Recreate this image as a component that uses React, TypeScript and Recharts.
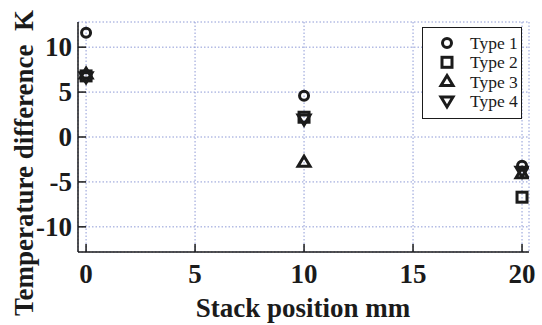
import { CartesianGrid, Scatter, ScatterChart, XAxis, YAxis } from "recharts";

// stack positions (mm) and temperature differences (K) per type
const positions = [0, 10, 20];
const type1 = [11.6, 4.6, -3.2];
const type2 = [6.8, 2.2, -6.7];
const type3 = [7.0, -2.8, -4.1];
const type4 = [6.7, 2.0, -3.8];

const seriesNames = ["Type 1", "Type 2", "Type 3", "Type 4"];
const seriesShapes = ["circle", "square", "up", "down"];
const seriesValues = [type1, type2, type3, type4];

const xTicks = [0, 5, 10, 15, 20];
const yTicks = [-10, -5, 0, 5, 10];

const INK = "#1b1b1b";
const GRID = "#8e9ad6";
const SERIF = '"Liberation Serif", "Times New Roman", serif';

function Marker({ kind, cx, cy }: { kind: string; cx: number; cy: number }) {
  const style = { fill: "none", stroke: INK, strokeWidth: 3 };
  if (kind === "circle") return <circle cx={cx} cy={cy} r={4.5} {...style} />;
  if (kind === "square")
    return <rect x={cx - 5} y={cy - 5} width={10} height={10} {...style} />;
  if (kind === "up")
    return (
      <polygon
        points={`${cx},${cy - 6} ${cx + 6},${cy + 4} ${cx - 6},${cy + 4}`}
        {...style}
      />
    );
  return (
    <polygon
      points={`${cx - 6},${cy - 4} ${cx + 6},${cy - 4} ${cx},${cy + 6}`}
      {...style}
    />
  );
}

function XTick({ x, payload }: any) {
  return (
    <text x={x} y={283} textAnchor="middle" fontFamily={SERIF} fontWeight="bold" fontSize={27} fill={INK}>
      {payload.value}
    </text>
  );
}

function YTick({ y, payload }: any) {
  return (
    <text x={72} y={y} dy={9} textAnchor="end" fontFamily={SERIF} fontWeight="bold" fontSize={27} fill={INK}>
      {payload.value}
    </text>
  );
}

function Legendbox() {
  return (
    <div
      style={{
        position: "absolute",
        left: 422,
        top: 27,
        width: 100,
        height: 92,
        boxSizing: "border-box",
        border: `1.5px solid ${INK}`,
        background: "#fff",
      }}
    >
      <svg width={97} height={89} style={{ display: "block" }}>
        {seriesNames.map((name, i) => (
          <g key={name}>
            <Marker kind={seriesShapes[i]} cx={24} cy={15 + i * 19.3} />
            <text x={47} y={21 + i * 19.3} fontFamily={SERIF} fontSize={17.5} fill={INK}>
              {name}
            </text>
          </g>
        ))}
      </svg>
    </div>
  );
}

const noLabel = () => <g />;

export default function App() {
  const axisLine = { stroke: INK, strokeWidth: 1.5 };
  return (
    <div style={{ position: "absolute", left: 0, top: 0, width: 542, height: 325, background: "#fff" }}>
      <ScatterChart width={542} height={325} margin={{ top: 22, right: 13, bottom: 0, left: 0 }}>
        <CartesianGrid stroke={GRID} strokeDasharray="1.5 2" strokeWidth={1} />
        <XAxis
          type="number"
          dataKey="x"
          domain={[-0.37, 20.32]}
          ticks={xTicks}
          allowDataOverflow
          height={73}
          axisLine={axisLine}
          tickLine={axisLine}
          tickSize={-8}
          tick={<XTick />}
          label={{
            content: () => (
              <text x={303} y={317} textAnchor="middle" fontFamily={SERIF} fontWeight="bold" fontSize={27} fill={INK}>
                Stack position mm
              </text>
            ),
          }}
        />
        <XAxis
          xAxisId="top"
          orientation="top"
          type="number"
          domain={[-0.37, 20.32]}
          ticks={xTicks}
          allowDataOverflow
          height={0}
          axisLine={axisLine}
          tickLine={axisLine}
          tickSize={-8}
          tick={noLabel}
        />
        <YAxis
          type="number"
          dataKey="y"
          domain={[-12.8, 12.8]}
          ticks={yTicks}
          allowDataOverflow
          width={78}
          axisLine={axisLine}
          tickLine={axisLine}
          tickSize={-8}
          tick={<YTick />}
          label={{
            content: () => (
              <text
                transform="translate(33,163) rotate(-90)"
                textAnchor="middle"
                fontFamily={SERIF}
                fontWeight="bold"
                fontSize={27}
                fill={INK}
              >
                {"Temperature difference\u00A0 K"}
              </text>
            ),
          }}
        />
        <YAxis
          yAxisId="right"
          orientation="right"
          type="number"
          domain={[-12.8, 12.8]}
          ticks={yTicks}
          allowDataOverflow
          width={0}
          axisLine={axisLine}
          tickLine={axisLine}
          tickSize={-8}
          tick={noLabel}
        />
        {seriesValues.map((vals, i) => (
          <Scatter
            key={seriesNames[i]}
            name={seriesNames[i]}
            data={positions.map((x, j) => ({ x, y: vals[j] }))}
            isAnimationActive={false}
            shape={(p: any) => <Marker kind={seriesShapes[i]} cx={p.cx} cy={p.cy} />}
          />
        ))}
      </ScatterChart>
      <Legendbox />
    </div>
  );
}
